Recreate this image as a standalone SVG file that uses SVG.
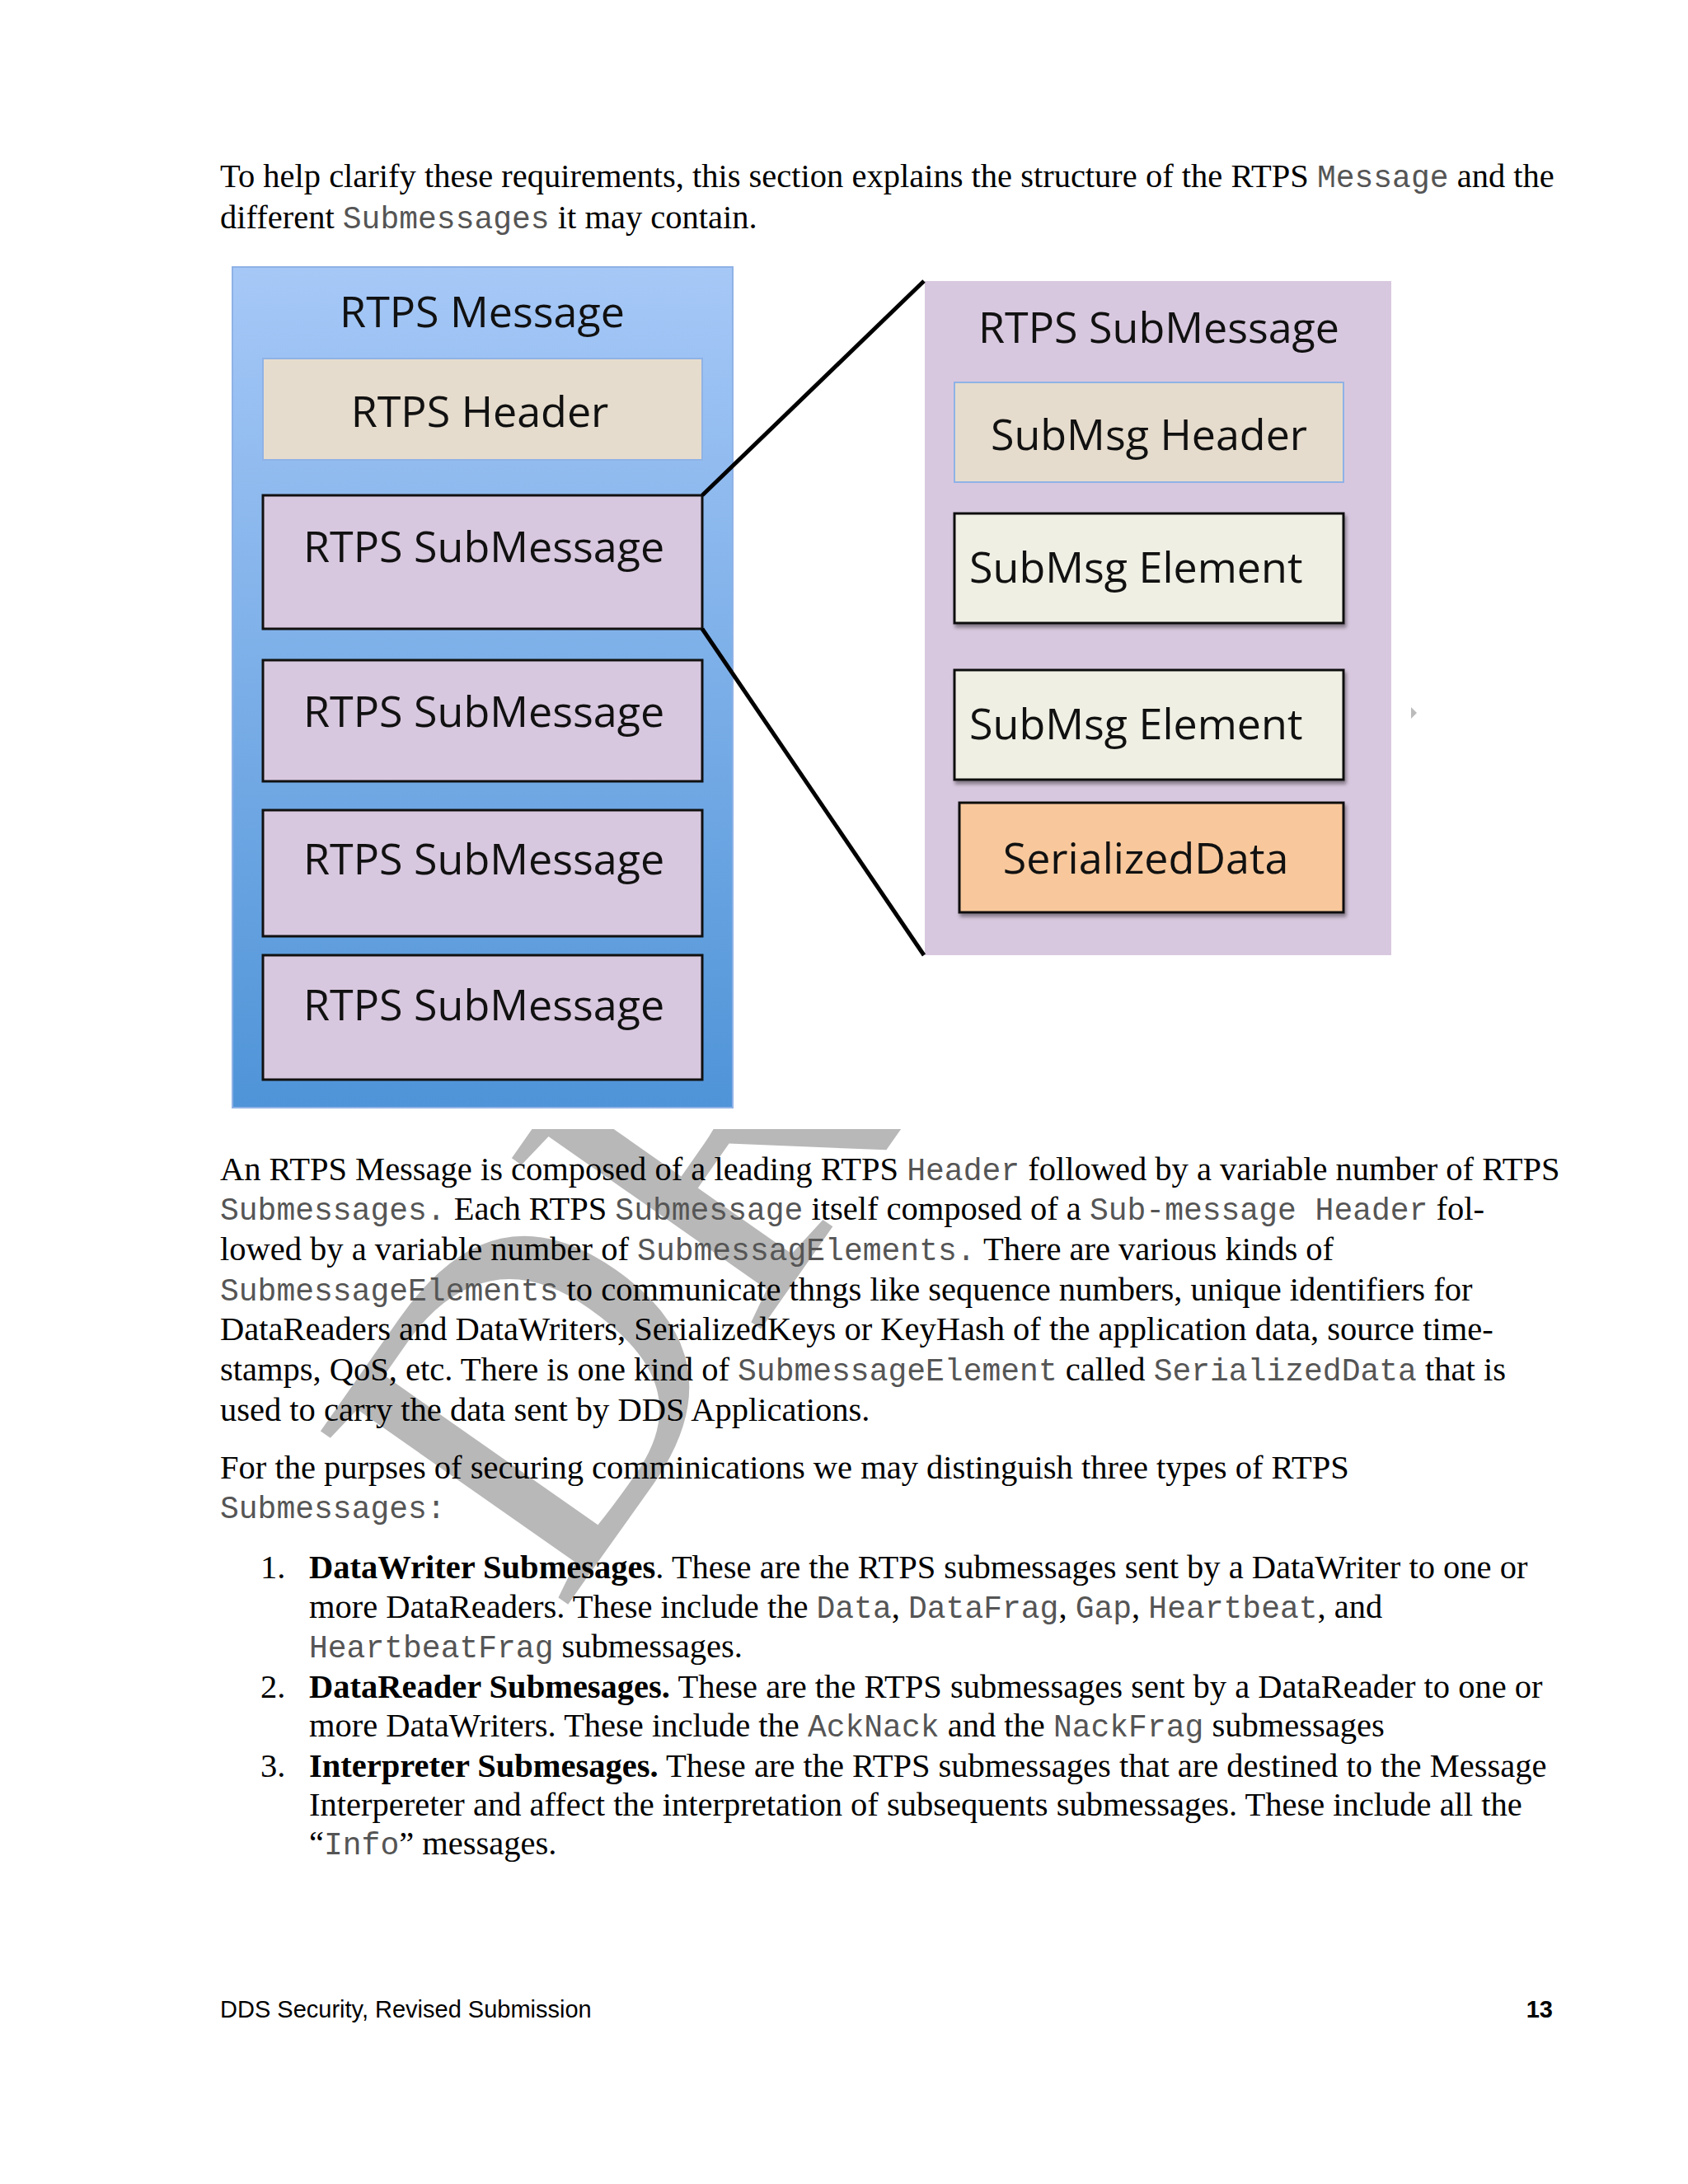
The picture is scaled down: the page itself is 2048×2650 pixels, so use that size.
<svg xmlns="http://www.w3.org/2000/svg" width="2048" height="2650" viewBox="0 0 2048 2650">
<defs>
<linearGradient id="bg" x1="0" y1="0" x2="0" y2="1"><stop offset="0" stop-color="#a6c8f7"/><stop offset="1" stop-color="#4f94d8"/></linearGradient>
<clipPath id="wm"><rect x="0" y="1370" width="2048" height="1280"/></clipPath>
<filter id="sh"><feDropShadow dx="2" dy="4" stdDeviation="2" flood-opacity="0.4"/></filter>
</defs>
<style>
.t{font-family:"Liberation Serif",serif;font-size:40.5px;fill:#000}
.m{font-family:"Liberation Mono",monospace;font-size:38px;fill:#555}
.b{font-weight:bold}
.c{font-family:"Open Sans","Liberation Sans",sans-serif;font-size:52px;fill:#111}
.sub{fill:#d8c8df;stroke:#111;stroke-width:3}
.el{fill:#f0efe4;stroke:#111;stroke-width:3}
.f{font-family:"Liberation Sans",sans-serif;font-size:29px}
</style>
<rect width="2048" height="2650" fill="#fff"/>
<g clip-path="url(#wm)"><text x="680" y="1960" transform="rotate(-55 680 1960)" font-family="Liberation Serif,serif" font-size="560" fill="#b8b8b8">DRAFT</text></g>
<text class="t" x="267" y="227">To help clarify these requirements, this section explains the structure of the RTPS <tspan class="m">Message</tspan> and the</text>
<text class="t" x="267" y="277">different <tspan class="m">Submessages</tspan> it may contain.</text>
<g id="rtps-message">
<rect x="282" y="324" width="607" height="1020" fill="url(#bg)" stroke="#8fb2e6" stroke-width="2"/>
<text class="c" x="585" y="397" text-anchor="middle">RTPS Message</text>
</g>
<g id="rtps-header"><rect x="319" y="435" width="533" height="123" fill="#e6dccd" stroke="#8fb2e6" stroke-width="2"/><text class="c" x="582" y="518" text-anchor="middle">RTPS Header</text></g>
<g id="sub1"><rect class="sub" x="319" y="601" width="533" height="162"/><text class="c" x="368" y="682">RTPS SubMessage</text></g>
<g id="sub2"><rect class="sub" x="319" y="801" width="533" height="147"/><text class="c" x="368" y="882">RTPS SubMessage</text></g>
<g id="sub3"><rect class="sub" x="319" y="983" width="533" height="153"/><text class="c" x="368" y="1061">RTPS SubMessage</text></g>
<g id="sub4"><rect class="sub" x="319" y="1159" width="533" height="151"/><text class="c" x="368" y="1238">RTPS SubMessage</text></g>
<g id="rtps-submessage-detail"><rect x="1122" y="341" width="566" height="818" fill="#d8c8df"/><text class="c" x="1406" y="416" text-anchor="middle">RTPS SubMessage</text></g>
<g id="submsg-header"><rect x="1158" y="464" width="472" height="121" fill="#e6dccd" stroke="#8fb2e6" stroke-width="2"/><text class="c" x="1394" y="546" text-anchor="middle">SubMsg Header</text></g>
<g id="elem1"><rect class="el" x="1158" y="623" width="472" height="133" filter="url(#sh)"/><text class="c" x="1176" y="707">SubMsg Element</text></g>
<g id="elem2"><rect class="el" x="1158" y="813" width="472" height="133" filter="url(#sh)"/><text class="c" x="1176" y="897">SubMsg Element</text></g>
<g id="serialized"><rect x="1164" y="974" width="466" height="133" fill="#f8c89c" stroke="#111" stroke-width="3" filter="url(#sh)"/><text class="c" x="1390" y="1060" text-anchor="middle">SerializedData</text></g>
<g id="connectors" stroke="#000" stroke-width="5" fill="none">
<line x1="852" y1="601" x2="1121" y2="341"/>
<line x1="852" y1="763" x2="1121" y2="1159"/>
</g>
<path d="M1712 858 L1719 865 L1712 872 Z" fill="#bbb"/>
<g id="body">
<text class="t" x="267" y="1432">An RTPS Message is composed of a leading RTPS <tspan class="m">Header</tspan> followed by a variable number of RTPS</text>
<text class="t" x="267" y="1480"><tspan class="m">Submessages.</tspan>  Each RTPS <tspan class="m">Submessage</tspan> itself composed of a <tspan class="m">Sub-message Header</tspan> fol-</text>
<text class="t" x="267" y="1529">lowed by a variable number of <tspan class="m">SubmessagElements.</tspan>  There are various kinds of</text>
<text class="t" x="267" y="1578"><tspan class="m">SubmessageElements</tspan> to communicate thngs like sequence numbers, unique identifiers for</text>
<text class="t" x="267" y="1626">DataReaders and DataWriters, SerializedKeys or KeyHash of the application data, source time-</text>
<text class="t" x="267" y="1675">stamps, QoS, etc. There is one kind of <tspan class="m">SubmessageElement</tspan> called <tspan class="m">SerializedData</tspan> that is</text>
<text class="t" x="267" y="1724">used to carry the data sent by DDS Applications.</text>
<text class="t" x="267" y="1794">For the purpses of securing comminications we may distinguish three types of RTPS</text>
<text class="t" x="267" y="1842"><tspan class="m">Submessages:</tspan></text>
<text class="t" x="316" y="1915">1.</text>
<text class="t" x="375" y="1915"><tspan class="b">DataWriter Submesages</tspan>. These are the RTPS submessages sent by a DataWriter to one or</text>
<text class="t" x="375" y="1963">more DataReaders. These include the <tspan class="m">Data</tspan>, <tspan class="m">DataFrag</tspan>, <tspan class="m">Gap</tspan>, <tspan class="m">Heartbeat</tspan>, and</text>
<text class="t" x="375" y="2011"><tspan class="m">HeartbeatFrag</tspan>  submessages.</text>
<text class="t" x="316" y="2060">2.</text>
<text class="t" x="375" y="2060"><tspan class="b">DataReader Submesages.</tspan> These are the RTPS submessages sent by a DataReader to one or</text>
<text class="t" x="375" y="2107">more DataWriters. These include the <tspan class="m">AckNack</tspan> and the <tspan class="m">NackFrag</tspan> submessages</text>
<text class="t" x="316" y="2156">3.</text>
<text class="t" x="375" y="2156"><tspan class="b">Interpreter Submesages.</tspan> These are the RTPS submessages that are destined to the Message</text>
<text class="t" x="375" y="2203">Interpereter and affect the interpretation of subsequents submessages. These include all the</text>
<text class="t" x="375" y="2250">“<tspan class="m">Info</tspan>” messages.</text>
</g>
<text class="f" x="267" y="2448">DDS Security, Revised Submission</text>
<text class="f" x="1884" y="2448" text-anchor="end" font-weight="bold">13</text>
</svg>
